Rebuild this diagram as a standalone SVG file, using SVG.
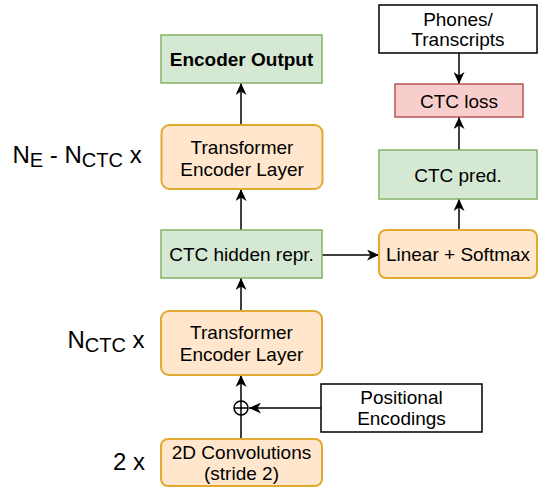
<svg xmlns="http://www.w3.org/2000/svg" width="538" height="488" viewBox="0 0 538 488">
<defs>
<style>
text{font-family:"Liberation Sans",Arial,Helvetica,sans-serif;fill:#000;}
.t{font-size:19px;text-anchor:middle;}
.b{font-weight:bold;}
.lbl{font-size:24px;}
.sub{font-size:20px;}
.green{fill:#d5e8d4;stroke:#82b366;stroke-width:1.5;}
.orange{fill:#ffe6cc;stroke:#e0aa30;stroke-width:2;}
.red{fill:#f8cecc;stroke:#b85450;stroke-width:1.5;}
.plain{fill:#fff;stroke:#000;stroke-width:1.5;}
.edge{fill:none;stroke:#000;stroke-width:1.5;}
</style>
<marker id="arr" markerUnits="userSpaceOnUse" markerWidth="13" markerHeight="11" refX="12" refY="5.5" orient="auto">
<path d="M0,0 L12,5.5 L0,11 L3.5,5.5 z" fill="#000"/>
</marker>
</defs>
<rect width="538" height="488" fill="#fff"/>

<g id="labels">
<text class="lbl" x="12.5" y="163">N<tspan class="sub" dy="4">E</tspan><tspan dy="-4"> - N</tspan><tspan class="sub" dy="4">CTC</tspan><tspan dy="-4"> x</tspan></text>
<text class="lbl" x="67.5" y="348">N<tspan class="sub" dy="4">CTC</tspan><tspan dy="-4"> x</tspan></text>
<text class="lbl" x="113" y="470">2 x</text>
</g>

<g id="connectors">
<line class="edge" x1="241" y1="125" x2="241" y2="83" marker-end="url(#arr)"/>
<line class="edge" x1="241" y1="230" x2="241" y2="189" marker-end="url(#arr)"/>
<line class="edge" x1="241" y1="311" x2="241" y2="278" marker-end="url(#arr)"/>
<line class="edge" x1="241" y1="439" x2="241" y2="375" marker-end="url(#arr)"/>
<line class="edge" x1="321" y1="408" x2="249" y2="408" marker-end="url(#arr)"/>
<line class="edge" x1="322" y1="255" x2="379" y2="255" marker-end="url(#arr)"/>
<line class="edge" x1="459" y1="230" x2="459" y2="199" marker-end="url(#arr)"/>
<line class="edge" x1="459" y1="150" x2="459" y2="117" marker-end="url(#arr)"/>
<line class="edge" x1="459" y1="53" x2="459" y2="84" marker-end="url(#arr)"/>
</g>

<g id="oplus">
<circle cx="241" cy="408" r="7" fill="none" stroke="#000" stroke-width="1.5"/>
<line x1="234" y1="408" x2="248" y2="408" stroke="#000" stroke-width="1.5"/>
</g>

<g id="encoder-output">
<rect class="green" x="161" y="35" width="161" height="48"/>
<text class="t b" x="241.5" y="65.5">Encoder Output</text>
</g>

<g id="transformer-top">
<rect class="orange" x="161.5" y="125" width="161" height="64" rx="8"/>
<text class="t" x="242" y="153.5">Transformer</text>
<text class="t" x="242" y="175.5">Encoder Layer</text>
</g>

<g id="ctc-hidden">
<rect class="green" x="161" y="230" width="161" height="48"/>
<text class="t" x="241.5" y="261">CTC hidden repr.</text>
</g>

<g id="transformer-bottom">
<rect class="orange" x="161" y="311" width="161" height="64" rx="8"/>
<text class="t" x="241.5" y="339">Transformer</text>
<text class="t" x="241.5" y="361">Encoder Layer</text>
</g>

<g id="positional-encodings">
<rect class="plain" x="321" y="384" width="161" height="48"/>
<text class="t" x="401.5" y="404">Positional</text>
<text class="t" x="401.5" y="425">Encodings</text>
</g>

<g id="conv">
<rect class="orange" x="161" y="439" width="161" height="47" rx="7"/>
<text class="t" x="241.5" y="459">2D Convolutions</text>
<text class="t" x="241.5" y="480">(stride 2)</text>
</g>

<g id="linear-softmax">
<rect class="orange" x="379" y="230" width="158" height="48" rx="7"/>
<text class="t" x="458" y="261">Linear + Softmax</text>
</g>

<g id="ctc-pred">
<rect class="green" x="379" y="150" width="158" height="49"/>
<text class="t" x="458" y="181.5">CTC pred.</text>
</g>

<g id="ctc-loss">
<rect class="red" x="395" y="84" width="128" height="33"/>
<text class="t" x="459" y="107.5">CTC loss</text>
</g>

<g id="phones">
<rect class="plain" x="379" y="5" width="158" height="48"/>
<text class="t" x="458" y="25.5">Phones/</text>
<text class="t" x="458" y="46">Transcripts</text>
</g>
</svg>
